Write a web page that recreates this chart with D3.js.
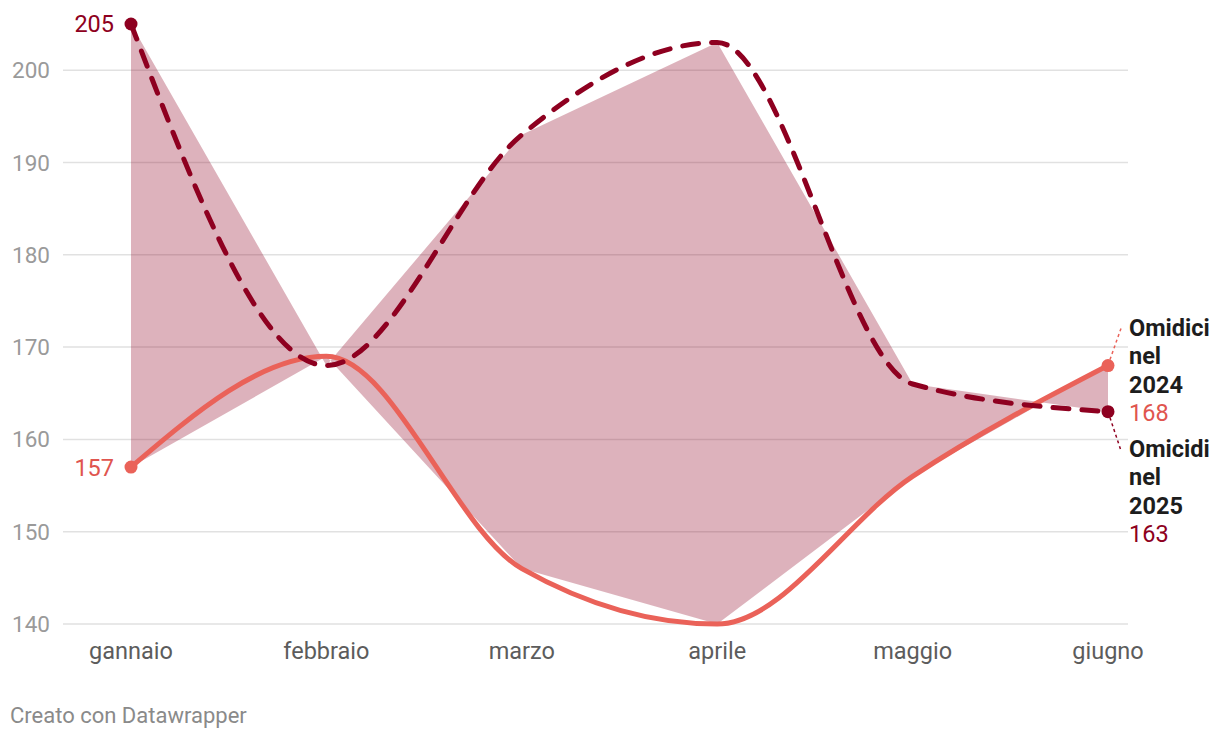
<!DOCTYPE html>
<html><head><meta charset="utf-8">
<script src="https://cdn.jsdelivr.net/npm/d3@7"></script>
<style>
body{margin:0;background:#fff;font-family:Roboto,"Noto Sans",sans-serif;}
</style></head><body>
<svg id="c" width="1220" height="740"></svg>
<script>
const months = ["gannaio","febbraio","marzo","aprile","maggio","giugno"];
const omicidi2024 = [157,169,146,140,156,168];
const omicidi2025 = [205,168,193,203,166,163];
const yTicks = [140,150,160,170,180,190,200];

const c24 = "#ea6259", c25 = "#8e0020";
const svg = d3.select("#c");
const x = d3.scalePoint().domain(months).range([131,1108]);
const y = d3.scaleLinear().domain([140,205]).range([624,24]);

// grid
const g = svg.append("g");
yTicks.forEach(t=>{
  g.append("line").attr("x1",63).attr("x2",1128).attr("y1",y(t)).attr("y2",y(t))
   .attr("stroke","#e1e1e1").attr("stroke-width",1.5);
  g.append("text").attr("x",50).attr("y",y(t)).attr("dy","0.36em").attr("text-anchor","end")
   .attr("font-size",22.5).attr("fill","#9a9a9a").text(t);
});
months.forEach(m=>{
  g.append("text").attr("x",x(m)).attr("y",659).attr("text-anchor","middle")
   .attr("font-size",23.5).attr("fill","#5c5c5c").text(m);
});

const rows = months.map((m,i)=>({m,a:omicidi2024[i],b:omicidi2025[i]}));
// area
svg.append("path").datum(rows)
  .attr("d", d3.area().x(d=>x(d.m)).y0(d=>y(d.a)).y1(d=>y(d.b)))
  .attr("fill", c25).attr("fill-opacity",0.3);

const line = d3.line().x(d=>x(d.m)).y(d=>y(d.v)).curve(d3.curveMonotoneX);
svg.append("path").datum(rows.map(r=>({m:r.m,v:r.a})))
  .attr("d",line).attr("fill","none").attr("stroke",c24).attr("stroke-width",5);
svg.append("path").datum(rows.map(r=>({m:r.m,v:r.b})))
  .attr("d",line).attr("fill","none").attr("stroke",c25).attr("stroke-width",5)
  .attr("stroke-dasharray","16,13").attr("stroke-linecap","round");

// endpoints
const last = months.length-1;
[[omicidi2024,c24],[omicidi2025,c25]].forEach(([s,col])=>{
  [0,last].forEach(i=>{
    svg.append("circle").attr("cx",x(months[i])).attr("cy",y(s[i])).attr("r",6.5).attr("fill",col);
  });
});
// start labels
svg.append("text").attr("x",114).attr("y",y(omicidi2025[0])).attr("dy","0.36em").attr("text-anchor","end")
  .attr("font-size",23.5).attr("fill",c25).text(omicidi2025[0]);
svg.append("text").attr("x",114).attr("y",y(omicidi2024[0])).attr("dy","0.36em").attr("text-anchor","end")
  .attr("font-size",23.5).attr("fill","#e0554f").text(omicidi2024[0]);

// end connectors
const xe = x(months[last]);
svg.append("line").attr("x1",xe+2).attr("y1",y(omicidi2024[last])-6).attr("x2",xe+14).attr("y2",y(omicidi2024[last])-40)
  .attr("stroke",c24).attr("stroke-width",1.5).attr("stroke-dasharray","3,3");
svg.append("line").attr("x1",xe+2).attr("y1",y(omicidi2025[last])+6).attr("x2",xe+13).attr("y2",y(omicidi2025[last])+39)
  .attr("stroke",c25).attr("stroke-width",1.5).attr("stroke-dasharray","3,3");

function endLabel(lines, val, col, y0){
  const t = svg.append("text").attr("x",1129).attr("font-size",23.5);
  lines.forEach((l,i)=>{
    t.append("tspan").attr("x",1129).attr("y",y0+i*28.3).attr("font-weight","bold").attr("fill","#1d1d1d").text(l);
  });
  t.append("tspan").attr("x",1129).attr("y",y0+lines.length*28.3).attr("fill",col).text(val);
}
endLabel(["Omidici","nel","2024"], omicidi2024[last], "#e0554f", 336);
endLabel(["Omicidi","nel","2025"], omicidi2025[last], c25, 457);

svg.append("text").attr("x",10).attr("y",723).attr("font-size",22).attr("fill","#8a8a8a").text("Creato con Datawrapper");
</script></body></html>
